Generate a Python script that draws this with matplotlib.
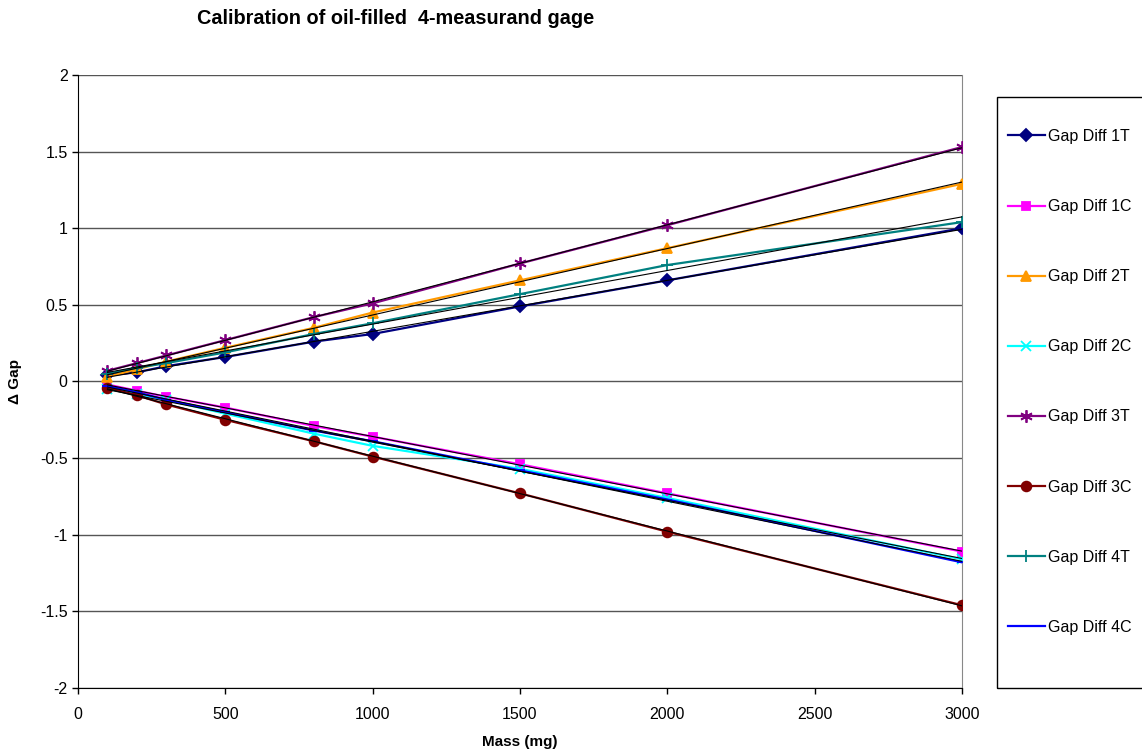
import matplotlib.pyplot as plt
import numpy as np
from matplotlib.patches import Rectangle

plt.rcParams['font.family'] = ['Liberation Sans', 'DejaVu Sans']

mass = [100, 200, 300, 500, 800, 1000, 1500, 2000, 3000]

gap_1t = [0.04, 0.06, 0.10, 0.16, 0.26, 0.31, 0.49, 0.66, 1.00]
gap_1c = [-0.02, -0.06, -0.10, -0.17, -0.29, -0.36, -0.54, -0.73, -1.11]
gap_2t = [0.03, 0.08, 0.13, 0.22, 0.35, 0.45, 0.66, 0.87, 1.29]
gap_2c = [-0.05, -0.08, -0.12, -0.21, -0.34, -0.42, -0.57, -0.76, -1.16]
gap_3t = [0.07, 0.12, 0.17, 0.27, 0.42, 0.51, 0.77, 1.02, 1.53]
gap_3c = [-0.04, -0.09, -0.15, -0.25, -0.39, -0.49, -0.73, -0.98, -1.46]
gap_4t = [0.05, 0.09, 0.12, 0.19, 0.31, 0.38, 0.57, 0.76, 1.04]
gap_4c = [-0.03, -0.07, -0.12, -0.20, -0.32, -0.39, -0.58, -0.77, -1.18]

labels = ['Gap Diff 1T', 'Gap Diff 1C', 'Gap Diff 2T', 'Gap Diff 2C',
          'Gap Diff 3T', 'Gap Diff 3C', 'Gap Diff 4T', 'Gap Diff 4C']
series = [gap_1t, gap_1c, gap_2t, gap_2c, gap_3t, gap_3c, gap_4t, gap_4c]
colors = ['#000080', '#FF00FF', '#FF9900', '#00FFFF',
          '#800080', '#800000', '#008080', '#0000FF']
markers = ['D', 's', '^', 'x', (6, 2, 0), 'o', '+', '_']
msizes = [6, 6, 7, 7, 9, 7, 9, 7]

fig = plt.figure(figsize=(11.42, 7.53), dpi=100)
ax = fig.add_axes([78 / 1142, 1 - 688 / 753, (962 - 78) / 1142, (688 - 75) / 753])

handles = []
for y, lab, c, m, ms in zip(series, labels, colors, markers, msizes):
    h, = ax.plot(mass, y, color=c, marker=m, markersize=ms, lw=1.6,
                 markeredgewidth=1.3, label=lab, zorder=3)
    handles.append(h)
    # linear trendline like the spreadsheet
    k, b = np.polyfit(mass, y, 1)
    xx = np.array([mass[0], mass[-1]])
    ax.plot(xx, k * xx + b, color='black', lw=0.8, zorder=4)

ax.set_xlim(0, 3000)
ax.set_ylim(-2, 2)
ax.set_xticks([0, 500, 1000, 1500, 2000, 2500, 3000])
ax.set_yticks([-2, -1.5, -1, -0.5, 0, 0.5, 1, 1.5, 2])
ax.set_yticklabels(['-2', '-1.5', '-1', '-0.5', '0', '0.5', '1', '1.5', '2'])
ax.yaxis.grid(True, color='#555555', lw=1)
ax.set_axisbelow(True)
ax.tick_params(labelsize=11.5, direction='out', length=4, width=1)
ax.tick_params(axis='x', pad=10)
ax.spines['top'].set_visible(False)
ax.spines['right'].set_color('#888888')
ax.spines['left'].set_color('black')
ax.spines['bottom'].set_color('black')

ax.set_xlabel('Mass (mg)', fontsize=11, fontweight='bold', labelpad=9)
ax.set_ylabel('Δ Gap', fontsize=11, fontweight='bold', labelpad=13)
fig.text(396 / 1142, 1 - 19 / 753, 'Calibration of oil-filled  4-measurand gage',
         fontsize=14.3, fontweight='bold', ha='center', va='center')

fig.patches.append(Rectangle((997 / 1142, 1 - 688 / 753), 0.2, (688 - 97) / 753,
                             transform=fig.transFigure, fill=False,
                             edgecolor='black', lw=1))
fig.legend(handles=handles, loc='upper left', bbox_to_anchor=(1000 / 1142, 1 - 121 / 753),
           frameon=False, fontsize=11.5, labelspacing=3.45, handlelength=2.3,
           handletextpad=0.2, borderpad=0)

fig.savefig('out.png', dpi=100)
